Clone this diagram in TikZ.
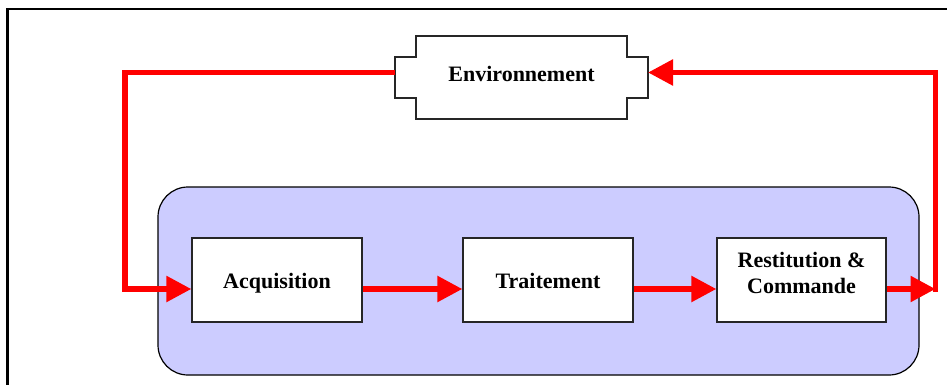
\documentclass[tikz,border=0pt]{standalone}
\usepackage{fontspec}
\setmainfont{Liberation Serif}
\usetikzlibrary{arrows.meta}
\definecolor{sysblue}{RGB}{204,204,255}
\begin{document}
\begin{tikzpicture}[x=1pt,y=-1pt,
 redline/.style={draw=red, line width=5.5pt},
 redarrow/.style={redline, -{Triangle[length=25pt,width=25pt]}},
 blocktxt/.style={font=\fontsize{22}{26}\selectfont\bfseries},
 block/.style={blocktxt, draw=black!85, line width=1.3pt, fill=white, minimum width=170pt, minimum height=84pt, inner sep=0pt, align=center},
]
\useasboundingbox (0,0) rectangle (947,385);
\draw[line width=2.5pt] (7.5,385) -- (7.5,9) -- (947,9);
% system box
\node[draw=black, line width=1.2pt, fill=sysblue, rounded corners=30pt, minimum width=761pt, minimum height=188pt, inner sep=0pt] (sys) at (538.5,281) {};
% environment
\draw[line width=1.2pt, draw=black!85, fill=white] (416,36) -- (627,36) -- (627,57) -- (648,57) -- (648,98) -- (627,98) -- (627,119) -- (416,119) -- (416,98) -- (395,98) -- (395,57) -- (416,57) -- cycle;
\node[blocktxt, minimum width=253pt, minimum height=41pt, inner sep=0pt] (env) at (521.5,75) {\raisebox{-7pt}[0pt][0pt]{Environnement}};
\coordinate (envL) at (395,72.5);
\coordinate (envR) at (648,72.5);
% blocks
\node[block] (acq) at (277,280) {\raisebox{-8pt}[0pt][0pt]{Acquisition}};
\node[block] (trait) at (548,280) {\raisebox{-8pt}[0pt][0pt]{Traitement}};
\node[block, minimum width=169pt] (rest) at (801.5,280) {\raisebox{13pt}[0pt][0pt]{\begin{tabular}[t]{@{}c@{}}Restitution \&\\Commande\end{tabular}}};
% corners
\coordinate (TL) at (125,72.5);
\coordinate (BL) at (125,289);
\coordinate (BR) at (935.5,289);
\coordinate (TR) at (935.5,72.5);
% arrows
\draw[redarrow] ([yshift=-9pt]acq.east) -- ([yshift=-9pt]trait.west);
\draw[redarrow] ([yshift=-9pt]trait.east) -- ([yshift=-9pt]rest.west);
\draw[redarrow] ([yshift=-9pt]rest.east) -- (BR);
\draw[redarrow, line cap=rect] (BR) -- (TR) -- (envR);
\draw[redarrow] (envL) -- (TL) -- (BL) -- ([yshift=-9pt]acq.west);
\end{tikzpicture}
\end{document}
